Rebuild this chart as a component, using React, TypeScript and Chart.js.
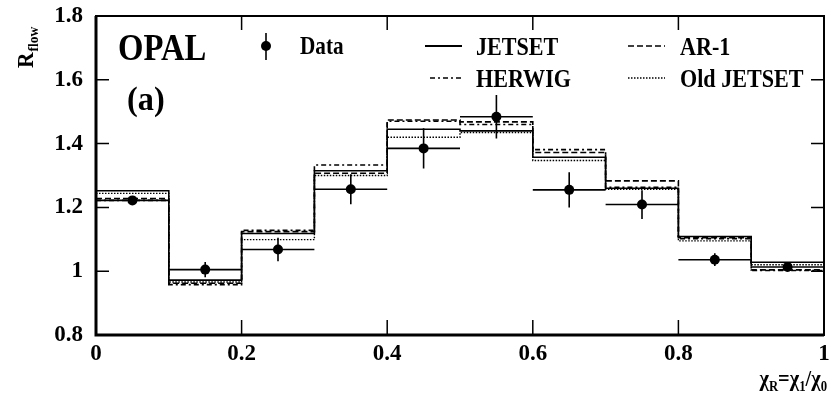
import React, { useEffect, useRef } from "react";
import { Chart, registerables } from "chart.js";

Chart.register(...registerables);

const binEdges = [0, 0.1, 0.2, 0.3, 0.4, 0.5, 0.6, 0.7, 0.8, 0.9, 1.0];
const binCenters = [0.05, 0.15, 0.25, 0.35, 0.45, 0.55, 0.65, 0.75, 0.85, 0.95];
const dataValues = [1.222, 1.005, 1.068, 1.257, 1.385, 1.484, 1.255, 1.209, 1.036, 1.013];
const dataErrors = [0.013, 0.024, 0.037, 0.047, 0.063, 0.068, 0.055, 0.045, 0.02, 0.01];
const jetset = [1.252, 0.972, 1.118, 1.315, 1.445, 1.44, 1.357, 1.26, 1.109, 1.028];
const ar1 = [1.228, 0.962, 1.124, 1.307, 1.474, 1.468, 1.372, 1.283, 1.105, 1.004];
const herwig = [1.222, 0.958, 1.128, 1.333, 1.47, 1.46, 1.381, 1.263, 1.102, 1.002];
const oldJetset = [1.244, 0.966, 1.099, 1.3, 1.42, 1.435, 1.347, 1.257, 1.095, 1.02];
const xTicks = [0, 0.2, 0.4, 0.6, 0.8, 1];
const yTicks = [0.8, 1, 1.2, 1.4, 1.6, 1.8];

const FONT = '"Liberation Serif", "Times New Roman", serif';

function histPoints(vals: number[]) {
  const pts = vals.map((v, i) => ({ x: binEdges[i], y: v }));
  pts.push({ x: binEdges[binEdges.length - 1], y: vals[vals.length - 1] });
  return pts;
}

function fmt(v: number) {
  return String(Math.round(v * 10) / 10);
}

function txt(ctx: CanvasRenderingContext2D, s: string, x: number, y: number, size: number, sx = 0.85) {
  ctx.save();
  ctx.font = `bold ${size}px ${FONT}`;
  ctx.translate(x, y);
  ctx.scale(sx, 1);
  ctx.textAlign = "left";
  ctx.textBaseline = "alphabetic";
  ctx.fillStyle = "#000";
  ctx.fillText(s, 0, 0);
  ctx.restore();
}

const decor = {
  id: "decor",
  afterDatasetsDraw(chart: any) {
    const ctx: CanvasRenderingContext2D = chart.ctx;
    const xs = chart.scales.x;
    const ys = chart.scales.y;
    const a = chart.chartArea;
    ctx.save();
    // error bars
    ctx.strokeStyle = "#000";
    ctx.lineWidth = 1.6;
    binCenters.forEach((c, i) => {
      const px = xs.getPixelForValue(c);
      const py = ys.getPixelForValue(dataValues[i]);
      ctx.beginPath();
      ctx.moveTo(xs.getPixelForValue(binEdges[i]), py);
      ctx.lineTo(xs.getPixelForValue(binEdges[i + 1]), py);
      ctx.moveTo(px, ys.getPixelForValue(dataValues[i] - dataErrors[i]));
      ctx.lineTo(px, ys.getPixelForValue(dataValues[i] + dataErrors[i]));
      ctx.stroke();
    });
    // frame
    ctx.lineWidth = 2;
    ctx.strokeRect(a.left, a.top, a.right - a.left, a.bottom - a.top);
    ctx.lineWidth = 3;
    ctx.beginPath();
    ctx.moveTo(a.left, a.top);
    ctx.lineTo(a.left, a.bottom);
    ctx.lineTo(a.right, a.bottom);
    ctx.stroke();
    // inward ticks
    ctx.lineWidth = 1.5;
    ctx.beginPath();
    xTicks.forEach((t) => {
      if (t === 0 || t === 1) return;
      const px = xs.getPixelForValue(t);
      ctx.moveTo(px, a.bottom);
      ctx.lineTo(px, a.bottom - 15);
      ctx.moveTo(px, a.top);
      ctx.lineTo(px, a.top + 14);
    });
    yTicks.forEach((t) => {
      if (t === 0.8 || t === 1.8) return;
      const py = ys.getPixelForValue(t);
      ctx.moveTo(a.left, py);
      ctx.lineTo(a.left + 13, py);
      ctx.moveTo(a.right, py);
      ctx.lineTo(a.right - 13, py);
    });
    ctx.stroke();

    // legend
    txt(ctx, "OPAL", 118, 60, 38, 0.86);
    txt(ctx, "(a)", 127, 110, 34, 0.95);
    ctx.lineWidth = 1.6;
    ctx.beginPath();
    ctx.moveTo(266, 33);
    ctx.lineTo(266, 60);
    ctx.stroke();
    ctx.beginPath();
    ctx.arc(266, 46, 5, 0, Math.PI * 2);
    ctx.fillStyle = "#000";
    ctx.fill();
    txt(ctx, "Data", 300, 54, 25, 0.85);

    const legLine = (x1: number, x2: number, y: number, dash: number[], w: number) => {
      ctx.save();
      ctx.setLineDash(dash);
      ctx.lineWidth = w;
      ctx.beginPath();
      ctx.moveTo(x1, y);
      ctx.lineTo(x2, y);
      ctx.stroke();
      ctx.restore();
    };
    legLine(425, 462, 46, [], 2);
    txt(ctx, "JETSET", 476, 55, 26, 0.85);
    legLine(628, 665, 46, [6, 3], 1.6);
    txt(ctx, "AR-1", 680, 55, 26, 0.85);
    legLine(430, 462, 78, [5, 3, 2, 3], 1.6);
    txt(ctx, "HERWIG", 476, 87, 26, 0.85);
    legLine(628, 665, 78, [1.5, 1.5], 1.4);
    txt(ctx, "Old JETSET", 680, 87, 26, 0.85);

    // x title: χR=χ1/χ0
    const parts: [string, boolean][] = [["χ", false], ["R", true], ["=χ", false], ["1", true], ["/χ", false], ["0", true]];
    const sxT = 0.85;
    const bigSize = 24;
    const smallSize = 15;
    let total = 0;
    parts.forEach(([s, sub]) => {
      ctx.font = `bold ${sub ? smallSize : bigSize}px ${FONT}`;
      total += ctx.measureText(s).width * sxT;
    });
    let cx = 827 - total;
    const base = 386;
    parts.forEach(([s, sub]) => {
      ctx.font = `bold ${sub ? smallSize : bigSize}px ${FONT}`;
      const w = ctx.measureText(s).width * sxT;
      txt(ctx, s, cx, sub ? base + 5 : base, sub ? smallSize : bigSize, sxT);
      cx += w;
    });

    // y title: R_flow rotated
    ctx.save();
    ctx.translate(33, 68);
    ctx.rotate(-Math.PI / 2);
    ctx.scale(0.9, 1);
    ctx.fillStyle = "#000";
    ctx.font = `bold 24px ${FONT}`;
    ctx.fillText("R", 0, 0);
    const rw = ctx.measureText("R").width;
    ctx.font = `bold 15px ${FONT}`;
    ctx.fillText("flow", rw + 1, 5);
    ctx.restore();
    ctx.restore();
  },
};

export default function App() {
  const ref = useRef<HTMLCanvasElement>(null);
  useEffect(() => {
    if (!ref.current) return;
    const line = (label: string, vals: number[], dash: number[], w: number) => ({
      type: "line" as const,
      label,
      data: histPoints(vals),
      borderColor: "#000",
      borderWidth: w,
      borderDash: dash,
      pointRadius: 0,
      stepped: "before" as const,
      fill: false,
      tension: 0,
    });
    const chart = new Chart(ref.current, {
      type: "scatter",
      data: {
        datasets: [
          line("JETSET", jetset, [], 1.6),
          line("AR-1", ar1, [6, 3], 1.6),
          line("HERWIG", herwig, [5, 3, 2, 3], 1.6),
          line("Old JETSET", oldJetset, [1.5, 1.5], 1.4),
          {
            type: "scatter" as const,
            label: "Data",
            data: binCenters.map((c, i) => ({ x: c, y: dataValues[i] })),
            pointRadius: 5,
            pointBackgroundColor: "#000",
            pointBorderColor: "#000",
            borderWidth: 0,
          },
        ] as any,
      },
      options: {
        animation: false,
        responsive: false,
        devicePixelRatio: 1,
        layout: { padding: { top: 16, right: 3, left: 0, bottom: 0 } },
        plugins: { legend: { display: false }, tooltip: { enabled: false } },
        scales: {
          x: {
            type: "linear",
            min: 0,
            max: 1,
            afterFit: (s: any) => {
              s.height = 61;
              s.paddingLeft = 0;
              s.paddingRight = 0;
            },
            afterBuildTicks: (s: any) => { s.ticks = xTicks.map((v) => ({ value: v })); },
            grid: { display: false, drawTicks: false },
            border: { display: false },
            ticks: {
              padding: 5,
              color: "#000",
              font: { family: FONT, weight: "bold", size: 23 },
              maxRotation: 0,
              autoSkip: false,
              callback: (v: number) => fmt(v),
            },
          },
          y: {
            type: "linear",
            min: 0.8,
            max: 1.8,
            afterFit: (s: any) => {
              s.width = 96;
              s.paddingTop = 0;
              s.paddingBottom = 0;
            },
            afterBuildTicks: (s: any) => { s.ticks = yTicks.map((v) => ({ value: v })); },
            grid: { display: false, drawTicks: false },
            border: { display: false },
            ticks: {
              padding: 13,
              color: "#000",
              font: { family: FONT, weight: "bold", size: 23 },
              autoSkip: false,
              callback: (v: number) => fmt(v),
            },
          },
        },
      } as any,
      plugins: [decor],
    });
    return () => chart.destroy();
  }, []);
  return (
    <div style={{ position: "absolute", left: 0, top: 0, width: 829, height: 396, background: "#fff" }}>
      <canvas ref={ref} width={829} height={396} />
    </div>
  );
}
